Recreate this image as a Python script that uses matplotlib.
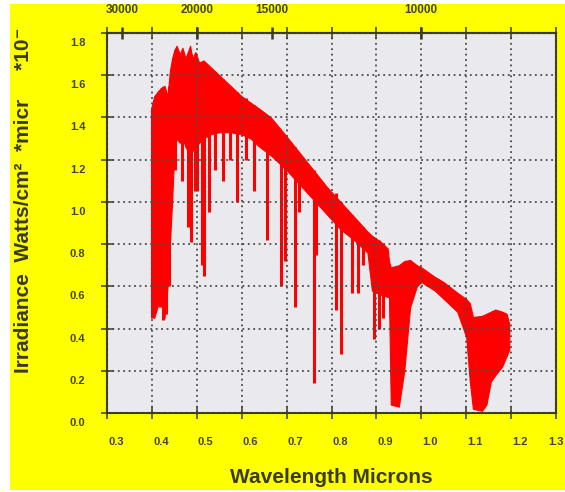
import matplotlib
matplotlib.use("Agg")
import matplotlib.pyplot as plt
from matplotlib.patches import Rectangle
from matplotlib.transforms import ScaledTranslation

# solar irradiance (wavelength in microns,
# irradiance in W/cm^2/micron *10^-1)
band_wl = [0.398, 0.405, 0.412, 0.420, 0.428, 0.435, 0.440, 0.445, 0.450, 0.455,
           0.462, 0.468, 0.475, 0.485, 0.490, 0.497, 0.505, 0.515, 0.530, 0.550,
           0.575, 0.600, 0.620, 0.640, 0.665, 0.700, 0.730, 0.760, 0.790, 0.820,
           0.850, 0.880, 0.890, 0.910, 0.925, 0.928, 0.932, 0.950, 0.962, 0.975,
           0.990, 1.000, 1.030, 1.050, 1.080, 1.100, 1.108, 1.115, 1.135, 1.145,
           1.155, 1.165, 1.180, 1.190, 1.196]
band_top = [1.44, 1.50, 1.52, 1.54, 1.55, 1.50, 1.62, 1.68, 1.72, 1.74,
            1.70, 1.73, 1.68, 1.74, 1.68, 1.71, 1.66, 1.67, 1.64, 1.60,
            1.55, 1.50, 1.47, 1.44, 1.40, 1.31, 1.23, 1.15, 1.07, 1.00,
            0.93, 0.86, 0.84, 0.81, 0.78, 0.72, 0.69, 0.70, 0.72, 0.725,
            0.70, 0.69, 0.645, 0.62, 0.57, 0.54, 0.52, 0.455, 0.46, 0.47,
            0.48, 0.49, 0.48, 0.47, 0.42]
band_bot = [0.47, 0.45, 0.50, 0.55, 0.45, 0.60, 0.80, 1.00, 1.25, 1.30,
            1.28, 1.30, 1.26, 1.22, 1.24, 1.26, 1.28, 1.30, 1.32, 1.33,
            1.33, 1.32, 1.30, 1.26, 1.22, 1.15, 1.08, 1.01, 0.94, 0.87,
            0.82, 0.76, 0.58, 0.56, 0.55, 0.55, 0.04, 0.03, 0.20, 0.50,
            0.60, 0.62, 0.58, 0.54, 0.48, 0.36, 0.15, 0.02, 0.01, 0.04,
            0.15, 0.18, 0.22, 0.27, 0.30]

# narrow absorption lines: wavelength, lowest point, top
line_wl = [0.401, 0.418, 0.425, 0.432, 0.438, 0.452, 0.466, 0.481, 0.486, 0.495,
           0.500, 0.511, 0.517, 0.527, 0.540, 0.558, 0.575, 0.589, 0.610, 0.628,
           0.656, 0.687, 0.697, 0.718, 0.728, 0.760, 0.765, 0.810, 0.822, 0.835,
           0.845, 0.860, 0.870, 0.895, 0.905, 0.915]
line_lo = [0.45, 0.50, 0.44, 0.47, 0.60, 1.15, 1.10, 0.88, 0.81, 1.05,
           1.05, 0.70, 0.65, 0.95, 1.15, 1.10, 1.20, 1.00, 1.20, 1.05,
           0.82, 0.60, 0.72, 0.50, 0.95, 0.14, 0.75, 0.49, 0.28, 0.90,
           0.57, 0.57, 0.70, 0.35, 0.40, 0.45]
line_hi = [1.40, 1.50, 1.50, 1.50, 1.55, 1.70, 1.70, 1.70, 1.70, 1.68,
           1.66, 1.65, 1.65, 1.62, 1.60, 1.58, 1.55, 1.52, 1.49, 1.46,
           1.40, 1.33, 1.30, 1.26, 1.23, 1.15, 1.13, 1.04, 1.00, 0.96,
           0.94, 0.90, 0.88, 0.83, 0.82, 0.80]

x_ticks = [0.3, 0.4, 0.5, 0.6, 0.7, 0.8, 0.9, 1.0, 1.1, 1.2, 1.3]
y_ticks = [0.0, 0.2, 0.4, 0.6, 0.8, 1.0, 1.2, 1.4, 1.6, 1.8]
wn_ticks = [30000, 20000, 15000, 10000]

YELLOW = "#FFFF00"
PANEL = "#E9E9EE"
INK = "#3A3A1C"
TICKTXT = "#45452A"
RED = "#FF0000"

plt.rcParams["font.family"] = ["Liberation Sans", "DejaVu Sans"]

fig = plt.figure(figsize=(5.65, 4.92), dpi=100, facecolor="white")
fig.add_artist(Rectangle((10 / 565, 0.004), 1.0, 0.988, transform=fig.transFigure,
                         facecolor=YELLOW, edgecolor="none", zorder=-10))

ax = fig.add_axes([107 / 565, 79 / 492, 449 / 565, 380 / 492])
ax.set_facecolor(PANEL)

ax.fill_between(band_wl, band_bot, band_top, color=RED, lw=0.8, zorder=2)
ax.vlines(line_wl, line_lo, line_hi, colors=RED, lw=2.2, zorder=2)

ax.set_xlim(0.3, 1.3)
ax.set_ylim(0.0, 1.8)
ax.set_xticks(x_ticks, [f"{v:.1f}" for v in x_ticks])
ax.set_yticks(y_ticks, [f"{v:.1f}" for v in y_ticks])
ax.grid(True, color="#4A4A4A", linestyle=(0, (1, 2)), lw=1.3, zorder=3)
ax.set_axisbelow(False)

for side in ["left", "right", "top", "bottom"]:
    ax.spines[side].set_color(INK)
    ax.spines[side].set_linewidth(1.5)

ax.tick_params(axis="both", direction="inout", length=9, width=1.1, color=INK,
               labelsize=8, labelcolor=TICKTXT)
ax.tick_params(axis="x", pad=13, top=True)
ax.tick_params(axis="y", pad=11)
for lbl in ax.get_yticklabels():
    lbl.set_fontweight("bold")
    lbl.set_transform(lbl.get_transform() + ScaledTranslation(0, -0.09, fig.dpi_scale_trans))
xlabels = ax.get_xticklabels()
for lbl in xlabels:
    lbl.set_fontweight("bold")
    # last one sits at the figure edge, keep it inside
    dx = 0.09 if lbl is not xlabels[-1] else 0.0
    lbl.set_transform(lbl.get_transform() + ScaledTranslation(dx, 0, fig.dpi_scale_trans))

# wavenumber scale along the top
sec = ax.secondary_xaxis("top", functions=(lambda w: 1e4 / w, lambda k: 1e4 / k))
sec.set_xticks(wn_ticks, [str(v) for v in wn_ticks])
sec.tick_params(direction="inout", length=9, width=1.8, color=INK,
                labelsize=8.5, labelcolor=TICKTXT, pad=8)
sec.spines["top"].set_color(INK)
sec.spines["top"].set_linewidth(1.5)
for lbl in sec.get_xticklabels():
    lbl.set_fontweight("bold")

ax.set_xlabel("Wavelength Microns", fontsize=15, fontweight="bold", color=INK)
ax.xaxis.set_label_coords(0.5, -0.145)
ax.set_ylabel("Irradiance  Watts/cm\u00b2  *micr     *10\u207b", fontsize=15,
              fontweight="bold", color=INK)
ax.yaxis.set_label_coords(-0.165, 0.56)

fig.savefig("out.png", dpi=100, facecolor="white")
